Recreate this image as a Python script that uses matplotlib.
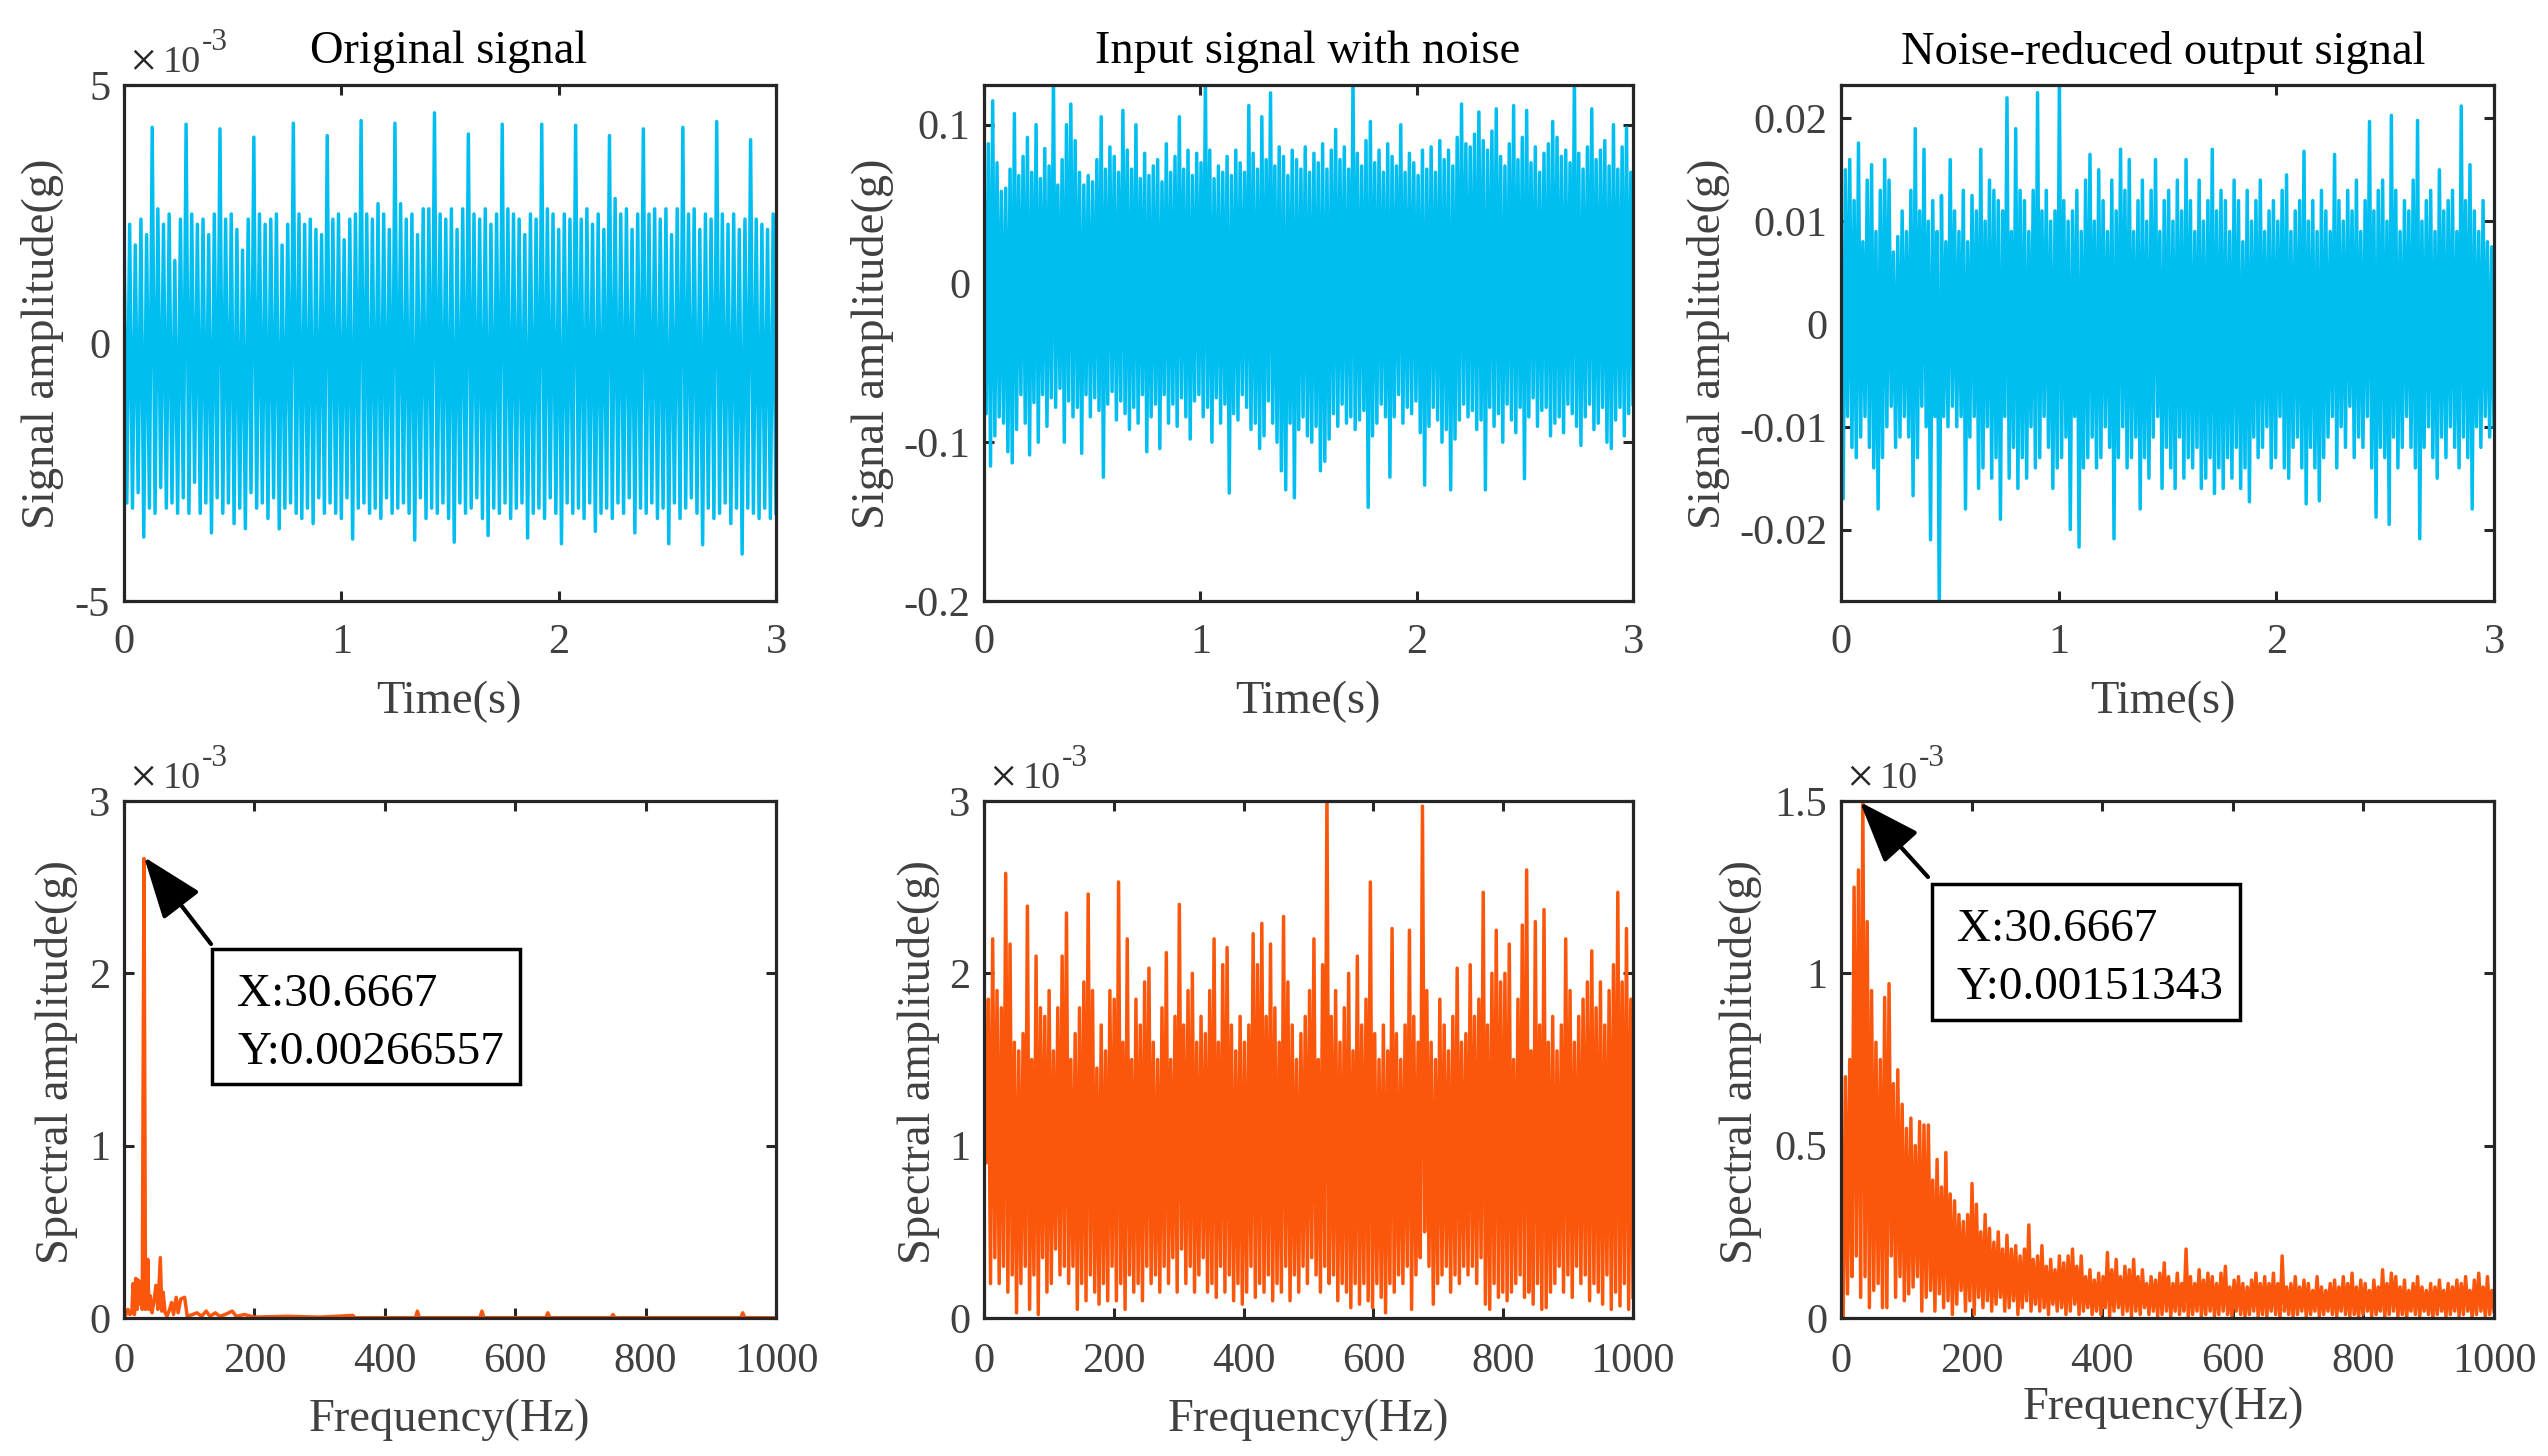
import matplotlib
matplotlib.use('Agg')
import matplotlib.pyplot as plt
from matplotlib.patches import Rectangle, FancyArrowPatch
import numpy as np

plt.rcParams['font.family'] = ['Liberation Serif', 'DejaVu Serif']
plt.rcParams['axes.unicode_minus'] = False

# Values, in units of 1e-3 g. Upper and lower peaks of each trace.
orig_upper = [2.2, 2.3, 1.9, 2.4, 2.1, 4.18, 2.6, 2.3, 2.5, 1.6, 2.4, 4.24,
              2.5, 2.3, 2.4, 2.1, 2.5, 4.15, 2.4, 2.5, 2.2, 1.8, 2.4, 3.99,
              2.5, 2.3, 2.4, 2.5, 1.9, 2.3, 4.26, 2.5, 2.3, 2.4, 2.2, 2.1, 4.02,
              2.4, 2.5, 2.0, 2.4, 2.5, 4.31, 2.5, 2.4, 2.7, 2.5, 2.2, 4.26,
              2.7, 2.4, 2.5, 2.1, 2.6, 2.6, 4.46, 2.5, 2.4, 2.6, 2.2, 2.6, 4.05,
              2.5, 2.4, 2.6, 2.3, 2.5, 4.24, 2.6, 2.5, 2.4, 2.1, 2.5, 2.4, 4.24,
              2.6, 2.5, 2.2, 2.5, 2.4, 4.22, 2.4, 2.6, 2.3, 2.5, 2.2, 4.02,
              2.8, 2.5, 2.6, 2.2, 2.5, 4.15, 2.5, 2.6, 2.4, 2.6, 2.1, 2.6, 4.18,
              2.5, 2.6, 2.2, 2.5, 2.4, 4.29, 2.5, 2.3, 2.5, 2.2, 2.4, 3.94,
              2.4, 2.3, 2.2, 2.5]
orig_lower = [-3.1, -3.2, -2.9, -3.76, -3.2, -3.3, -2.8, -3.2, -3.1, -3.3, -3.0, -3.3,
              -2.7, -3.3, -3.1, -3.68, -3.0, -3.3, -3.1, -3.5, -3.2, -3.6, -2.9, -3.2,
              -3.1, -3.4, -3.0, -3.6, -3.2, -3.1, -3.3, -3.4, -3.2, -3.5, -3.0, -3.3,
              -3.1, -3.3, -3.4, -3.0, -3.8, -3.2, -3.1, -3.3, -3.2, -3.4, -3.0, -3.3,
              -3.2, -3.1, -3.3, -3.82, -3.0, -3.4, -3.2, -3.3, -3.1, -3.4, -3.86, -3.1,
              -3.3, -3.2, -3.0, -3.4, -3.73, -3.2, -3.3, -3.1, -3.4, -3.2, -3.1, -3.78, -3.3,
              -3.2, -3.4, -3.0, -3.3, -3.89, -3.1, -3.3, -3.2, -3.4, -3.1, -3.65, -3.3,
              -3.2, -3.4, -3.1, -3.3, -3.0, -3.68, -3.2, -3.3, -3.1, -3.4, -3.2, -3.89,
              -3.1, -3.4, -3.2, -3.0, -3.3, -3.91, -3.2, -3.4, -3.3, -3.1, -3.5, -3.2, -4.09,
              -3.2, -3.3, -3.4, -3.2, -3.4, -3.3]

noise_upper = [75, 88, 115, 76, 58, 60, 72, 107, 68, 80,
               92, 70, 100, 66, 85, 74, 130, 62, 78, 100,
               113, 90, 70, 62, 68, 64, 78, 105, 72, 86,
               80, 70, 109, 84, 72, 100, 66, 82, 68, 74,
               78, 64, 88, 70, 80, 105, 72, 84, 68, 82,
               76, 130, 84, 66, 74, 70, 80, 68, 84, 76,
               70, 112, 82, 72, 105, 78, 120, 74, 86, 80,
               68, 84, 78, 72, 86, 70, 82, 76, 88, 72,
               84, 97, 78, 86, 72, 130, 82, 74, 90, 102,
               76, 84, 70, 88, 80, 74, 100, 70, 82, 76,
               68, 84, 72, 86, 70, 90, 78, 84, 74, 92,
               113, 88, 86, 94, 108, 90, 84, 96, 110, 80,
               74, 88, 112, 78, 92, 109, 76, 86, 70, 82,
               88, 102, 92, 80, 84, 76, 130, 82, 72, 86,
               110, 78, 84, 90, 74, 100, 72, 86, 98, 70]
noise_lower = [-82, -115, -96, -84, -88, -106, -113, -92, -70, -88,
               -108, -75, -100, -70, -90, -72, -78, -66, -100, -74,
               -84, -78, -107, -70, -84, -72, -80, -122, -76, -68,
               -86, -74, -82, -92, -78, -88, -70, -106, -84, -76,
               -104, -70, -88, -76, -90, -72, -84, -98, -74, -70,
               -84, -78, -100, -72, -88, -76, -132, -82, -86, -70,
               -78, -92, -88, -104, -96, -74, -88, -100, -118, -130,
               -88, -135, -92, -84, -96, -100, -90, -118, -112, -98,
               -82, -90, -76, -88, -84, -92, -86, -80, -141, -96,
               -88, -76, -84, -122, -84, -70, -88, -78, -82, -74,
               -94, -127, -90, -78, -86, -100, -92, -130, -98, -86,
               -76, -84, -80, -92, -86, -130, -78, -90, -82, -100,
               -76, -86, -94, -78, -123, -84, -72, -90, -80, -78,
               -96, -88, -84, -94, -76, -82, -90, -102, -84, -76,
               -92, -88, -78, -100, -104, -86, -78, -96, -82, -76]

out_upper = [10, 15, 16, 12, 17.6, 8, 14, 15.5, 9, 13,
             16, 14, 7, 8.5, 11, 9, 13, 19, 11, 17,
             10, 12, 9, 12.5, 8, 16, 11, 9, 13, 8,
             12.5, 11, 17, 10, 14, 13, 12, 11, 22, 9,
             19, 13, 12, 9, 13, 22.5, 11, 13, 10, 11,
             23.5, 12, 10, 11, 13, 9, 14, 16.5, 10, 15,
             12, 9, 14, 11, 17, 13, 16, 9, 12, 14,
             10, 13, 16, 9, 12, 13, 10, 14, 11, 16,
             12, 9, 14, 10, 12, 17, 11, 13, 12, 9,
             14, 12, 8, 13, 10, 12, 14, 9, 11, 12,
             10, 13, 14.5, 9, 11, 12, 16.8, 10, 12, 9,
             13, 11, 9, 16.5, 12, 10, 13, 11, 14, 9,
             12, 19.7, 11, 13, 14, 10, 20.3, 13, 9, 12,
             11, 14, 19.8, 10, 12, 13, 9, 15, 11, 12,
             13, 9, 21.2, 12, 15.5, 11, 9, 12, 8, 7.5]
out_lower = [-17, -9, -12, -13, -11, -9, -12, -14, -18, -13,
             -10, -8, -12, -11, -9, -11, -16.7, -13, -8, -10,
             -21, -9, -28, -9, -10, -8, -10, -9, -18, -11,
             -9, -16, -14, -10, -15, -13, -19, -9, -15, -12,
             -16, -13, -15, -10, -14, -13, -9, -12, -16, -14,
             -13, -11, -20, -9, -21.7, -14, -13, -11, -14, -13,
             -10, -12, -20.9, -13, -10, -14, -13, -11, -18, -13,
             -15, -11, -9, -16, -12, -14, -16, -11, -15, -13,
             -14, -12, -16, -15, -13, -16.5, -14, -16, -13, -15,
             -12, -16, -14, -17.3, -11, -13, -12, -10, -14, -13,
             -9, -14, -15, -12, -11, -14, -17.5, -12, -14, -17.2,
             -13, -11, -9, -14, -10, -12, -8, -13, -11, -12,
             -9, -14, -18.8, -12, -13, -19.5, -11, -14, -12, -9,
             -12, -14, -20.9, -12, -10, -13, -15, -11, -13, -10,
             -12, -14, -11, -13, -18, -10, -12, -9, -11, -10]

# spectrum of the clean signal: sparse spikes, so frequency is kept with each value
spec1_freq = [0, 3, 6, 9, 12, 14, 16, 18, 20, 22, 24, 26, 28, 30.6667, 33, 35, 36.6, 38,
              40, 43, 46, 49, 52, 55.7, 58, 60, 63, 66, 70, 73, 76, 80, 83, 87, 93, 97,
              105, 112, 119, 126, 132, 140, 147, 155, 166, 172, 185, 200, 250, 300, 351,
              354, 447, 450, 453, 546, 549, 552, 647, 650, 653, 747, 750, 753, 946, 949,
              952, 1000]
spec1_amp = [0, 0.02, 0.05, 0.02, 0.03, 0.2, 0.02, 0.23, 0.05, 0.22, 0.08, 0.21, 0.05,
             2.66557, 0.05, 0.12, 0.34, 0.05, 0.13, 0.03, 0.1, 0.19, 0.05, 0.35, 0.04,
             0.15, 0.03, 0.01, 0.05, 0.09, 0.02, 0.12, 0.03, 0.11, 0.12, 0.01,
             0.02, 0.03, 0.01, 0.04, 0.01, 0.03, 0.01, 0.02, 0.04, 0.01, 0.02, 0.005,
             0.01, 0.005, 0.015, 0.002, 0.002, 0.04, 0.002, 0.002, 0.04, 0.002,
             0.002, 0.03, 0.002, 0.002, 0.02, 0.002, 0.002, 0.03, 0.002, 0.001]

spec2_upper = [1.7, 1.85, 2.2, 1.9, 1.8, 2.58, 2.17, 1.6, 1.55, 1.65,
               2.39, 1.5, 2.1, 1.8, 1.75, 1.9, 1.55, 1.8, 2.1, 2.35,
               1.5, 1.65, 1.8, 1.95, 2.46, 1.9, 1.45, 1.7, 1.55, 1.9,
               1.85, 2.53, 1.6, 2.2, 1.5, 1.85, 1.7, 1.95, 2.03, 1.6,
               1.5, 1.8, 2.12, 1.5, 1.75, 2.4, 1.7, 1.9, 2.0, 1.6,
               1.75, 1.65, 1.9, 2.2, 1.6, 2.05, 2.15, 1.7, 1.55, 1.75,
               1.6, 1.7, 2.23, 2.05, 2.29, 1.75, 2.17, 1.8, 1.6, 2.33,
               1.95, 1.7, 1.5, 1.65, 1.75, 1.9, 2.2, 1.5, 2.05, 3.05,
               1.75, 1.9, 1.6, 1.8, 2.0, 1.55, 2.1, 1.7, 1.85, 2.53,
               1.65, 1.5, 1.7, 1.55, 2.26, 1.65, 1.5, 1.7, 2.25, 1.75,
               1.6, 2.97, 1.9, 1.6, 1.5, 1.85, 1.7, 1.55, 1.75, 2.03,
               1.6, 1.65, 2.05, 1.75, 1.85, 2.47, 1.7, 2.0, 2.25, 1.95,
               2.0, 2.17, 1.5, 1.85, 2.28, 2.6, 1.55, 2.3, 1.7, 2.37,
               1.6, 1.75, 1.55, 1.7, 2.2, 1.9, 1.6, 1.75, 1.85, 1.95,
               2.13, 1.8, 1.95, 1.7, 1.9, 2.05, 2.47, 1.95, 2.26, 1.85]
spec2_lower = [0.9, 0.2, 0.35, 0.2, 0.3, 0.15, 0.25, 0.03, 0.2, 0.3,
               0.05, 0.25, 0.02, 0.35, 0.15, 0.2, 0.4, 0.25, 0.3, 0.2,
               0.3, 0.05, 0.2, 0.1, 0.25, 0.15, 0.08, 0.2, 0.1, 0.3,
               0.1, 0.2, 0.05, 0.25, 0.15, 0.2, 0.1, 0.3, 0.2, 0.25,
               0.15, 0.3, 0.2, 0.35, 0.15, 0.4, 0.2, 0.3, 0.15, 0.25,
               0.35, 0.15, 0.2, 0.12, 0.3, 0.15, 0.25, 0.1, 0.2, 0.08,
               0.15, 0.3, 0.12, 0.2, 0.15, 0.25, 0.1, 0.2, 0.15, 0.3,
               0.1, 0.25, 0.15, 0.3, 0.2, 0.35, 0.25, 0.15, 0.3, 0.2,
               0.25, 0.1, 0.2, 0.15, 0.06, 0.2, 0.08, 0.2, 0.1, 0.06,
               0.2, 0.12, 0.03, 0.2, 0.15, 0.25, 0.2, 0.3, 0.05, 0.25,
               0.35, 0.5, 0.3, 0.08, 0.2, 0.25, 0.3, 0.15, 0.25, 0.2,
               0.3, 0.25, 0.3, 0.2, 0.35, 0.08, 0.05, 0.2, 0.12, 0.15,
               0.1, 0.15, 0.2, 0.25, 0.12, 0.15, 0.08, 0.2, 0.05, 0.06,
               0.15, 0.2, 0.3, 0.15, 0.25, 0.12, 0.3, 0.2, 0.25, 0.1,
               0.2, 0.15, 0.08, 0.25, 0.05, 0.15, 0.07, 0.2, 0.05, 0.12]

spec3_upper = [0.4, 0.7, 0.75, 1.25, 1.3, 1.51343, 1.15, 0.95, 0.8, 0.75,
               0.93, 0.97, 0.68, 0.72, 0.62, 0.55, 0.58, 0.5, 0.57, 0.56,
               0.56, 0.4, 0.46, 0.38, 0.48, 0.36, 0.34, 0.3, 0.28, 0.3,
               0.39, 0.33, 0.25, 0.3, 0.26, 0.22, 0.25, 0.2, 0.24, 0.2,
               0.21, 0.18, 0.2, 0.27, 0.17, 0.18, 0.21, 0.15, 0.17, 0.14,
               0.18, 0.16, 0.18, 0.2, 0.15, 0.18, 0.12, 0.14, 0.11, 0.13,
               0.12, 0.19, 0.14, 0.17, 0.12, 0.15, 0.14, 0.17, 0.12, 0.14,
               0.1, 0.12, 0.11, 0.13, 0.16, 0.12, 0.1, 0.13, 0.1, 0.2,
               0.12, 0.1, 0.14, 0.11, 0.13, 0.12, 0.1, 0.13, 0.15, 0.09,
               0.11, 0.12, 0.1, 0.09, 0.11, 0.13, 0.1, 0.12, 0.1, 0.13,
               0.1, 0.18, 0.09, 0.1, 0.12, 0.09, 0.11, 0.1, 0.08, 0.12,
               0.09, 0.08, 0.1, 0.11, 0.09, 0.12, 0.1, 0.13, 0.09, 0.11,
               0.1, 0.08, 0.11, 0.09, 0.14, 0.1, 0.13, 0.12, 0.09, 0.11,
               0.08, 0.1, 0.12, 0.09, 0.08, 0.1, 0.09, 0.11, 0.08, 0.1,
               0.09, 0.11, 0.1, 0.12, 0.08, 0.11, 0.13, 0.09, 0.12, 0.08]
spec3_lower = [0.0, 0.07, 0.12, 0.18, 0.06, 0.12, 0.03, 0.08, 0.1, 0.03,
               0.03, 0.18, 0.06, 0.12, 0.05, 0.07, 0.09, 0.12, 0.02, 0.06,
               0.08, 0.02, 0.07, 0.03, 0.05, 0.01, 0.04, 0.08, 0.02, 0.05,
               0.01, 0.06, 0.03, 0.05, 0.02, 0.04, 0.06, 0.02, 0.03, 0.05,
               0.01, 0.03, 0.05, 0.02, 0.04, 0.02, 0.03, 0.01, 0.04, 0.02,
               0.03, 0.01, 0.02, 0.04, 0.01, 0.02, 0.03, 0.01, 0.02, 0.01,
               0.03, 0.005, 0.02, 0.03, 0.01, 0.02, 0.005, 0.02, 0.01, 0.03,
               0.01, 0.02, 0.005, 0.01, 0.02, 0.005, 0.02, 0.01, 0.02, 0.005,
               0.01, 0.02, 0.005, 0.01, 0.02, 0.005, 0.01, 0.02, 0.01, 0.005,
               0.02, 0.01, 0.005, 0.01, 0.02, 0.005, 0.01, 0.005, 0.02, 0.01,
               0.005, 0.02, 0.01, 0.005, 0.01, 0.02, 0.005, 0.01, 0.02, 0.005,
               0.01, 0.02, 0.01, 0.005, 0.02, 0.01, 0.005, 0.01, 0.0, 0.01,
               0.02, 0.005, 0.01, 0.02, 0.0, 0.01, 0.02, 0.005, 0.01, 0.0,
               0.02, 0.01, 0.005, 0.02, 0.01, 0.0, 0.01, 0.02, 0.005, 0.01,
               0.02, 0.005, 0.01, 0.02, 0.0, 0.01, 0.02, 0.005, 0.01, 0.02]

titles = ['Original signal', 'Input signal with noise', 'Noise-reduced output signal']
time_ticks = [0, 1, 2, 3]
freq_ticks = [0, 200, 400, 600, 800, 1000]
orig_yticks = [-5, 0, 5]
noise_yticks = [-0.2, -0.1, 0, 0.1]
out_yticks = [-0.02, -0.01, 0, 0.01, 0.02]
spec_yticks = [0, 1, 2, 3]
spec3_yticks = [0, 0.5, 1, 1.5]

BLUE = '#00BEF0'
ORANGE = '#FA570C'
GRAY = '#404040'
DARK = '#262626'
W, H = 2548, 1456
FS = 33.5
TICK_FS = 30.5

fig = plt.figure(figsize=(W / 100, H / 100), dpi=100)


def add_panel(left, right, top, bottom, xpad):
    ax = fig.add_axes([left / W, 1 - bottom / H, (right - left) / W, (bottom - top) / H])
    ax.tick_params(direction='in', top=True, right=True, length=7, width=2.2, color=DARK,
                   labelsize=TICK_FS, labelcolor=GRAY)
    ax.tick_params(axis='x', pad=xpad)
    ax.tick_params(axis='y', pad=10)
    for s in ax.spines.values():
        s.set_linewidth(2.3)
        s.set_color(DARK)
    ax.yaxis.set_major_formatter(lambda v, pos: f'{v:g}')
    return ax


def fig_text(x, y, s, **kw):
    kw.setdefault('fontsize', FS)
    kw.setdefault('color', GRAY)
    kw.setdefault('va', 'center')
    kw.setdefault('ha', 'center')
    fig.text(x / W, 1 - y / H, s, **kw)


def zigzag(upper, lower):
    trace = np.empty(len(upper) * 2)
    trace[0::2] = upper
    trace[1::2] = lower
    return trace


def exponent(left, top):
    fig_text(left + 5, top - 22, '×', ha='left', color=DARK, fontsize=35)
    fig_text(left + 39, top - 22, '10', ha='left', fontsize=27.5)
    fig_text(left + 78, top - 42, '-3', ha='left', fontsize=22.5)


def callout(box, tip, start, lines):
    x0, y0, x1, y1 = box
    fig.add_artist(Rectangle((x0 / W, 1 - y1 / H), (x1 - x0) / W, (y1 - y0) / H,
                             transform=fig.transFigure, fc='white', ec='black', lw=2.5))
    fig_text(x0 + 25, y0 + 46, lines[0], ha='left', color='black', fontsize=34)
    fig_text(x0 + 25, y0 + 104, lines[1], ha='left', color='black', fontsize=34)
    fig.add_artist(FancyArrowPatch(
        (start[0] / W, 1 - start[1] / H), (tip[0] / W, 1 - tip[1] / H),
        transform=fig.transFigure, arrowstyle='-|>,head_length=1.75,head_width=0.65',
        mutation_scale=22, lw=3, color='black', shrinkA=0, shrinkB=0))


cols = [(124, 776), (984, 1633), (1841, 2494)]
row1 = (85, 601)
row2 = (801, 1318)
lw = 2.5

# top row: time signals
time_series = [zigzag(orig_upper, orig_lower), zigzag(noise_upper, noise_lower) / 1000,
               zigzag(out_upper, out_lower) / 1000]
ylims = [(-5, 5), (-0.2, 0.125), (-0.02695, 0.02325)]
yticks = [orig_yticks, noise_yticks, out_yticks]
ylabel_x = [43, 873, 1709]
title_x = [449, 1308, 2163]
for i, (l, r) in enumerate(cols):
    ax = add_panel(l, r, *row1, xpad=16)
    ax.plot(np.linspace(0, 3, len(time_series[i])), time_series[i], color=BLUE, lw=lw)
    ax.set_xlim(0, 3)
    ax.set_ylim(*ylims[i])
    ax.set_xticks(time_ticks)
    ax.set_yticks(yticks[i])
    fig_text(title_x[i], 52, titles[i], color='black')
    fig_text(title_x[i], 702, 'Time(s)')
    fig_text(ylabel_x[i], 344, 'Signal amplitude(g)', rotation=90)
exponent(cols[0][0], row1[0])

# bottom row: spectra
spec_x = [np.array(spec1_freq), None, None]
spec_y = [np.array(spec1_amp), zigzag(spec2_upper, spec2_lower), zigzag(spec3_upper, spec3_lower)]
spec_ymax = [3, 3, 1.5]
spec_ticks = [spec_yticks, spec_yticks, spec3_yticks]
ylabel_x2 = [57, 919, 1741]
xlabel_y = [1420, 1420, 1408]
for i, (l, r) in enumerate(cols):
    ax = add_panel(l, r, *row2, xpad=18)
    x = spec_x[i] if spec_x[i] is not None else np.linspace(0, 1000, len(spec_y[i]))
    ax.plot(x, spec_y[i], color=ORANGE, lw=lw)
    ax.set_xlim(0, 1000)
    ax.set_ylim(0, spec_ymax[i])
    ax.set_xticks(freq_ticks)
    ax.set_yticks(spec_ticks[i])
    fig_text(title_x[i], xlabel_y[i], 'Frequency(Hz)')
    fig_text(ylabel_x2[i], 1062, 'Spectral amplitude(g)', rotation=90)
    exponent(l, row2[0])

callout((212, 949, 520, 1084), (144, 857), (211, 944), ['X:30.6667', 'Y:0.00266557'])
callout((1932, 884, 2240, 1020), (1860, 802), (1928, 877), ['X:30.6667', 'Y:0.00151343'])

fig.savefig('out.png', dpi=100)
